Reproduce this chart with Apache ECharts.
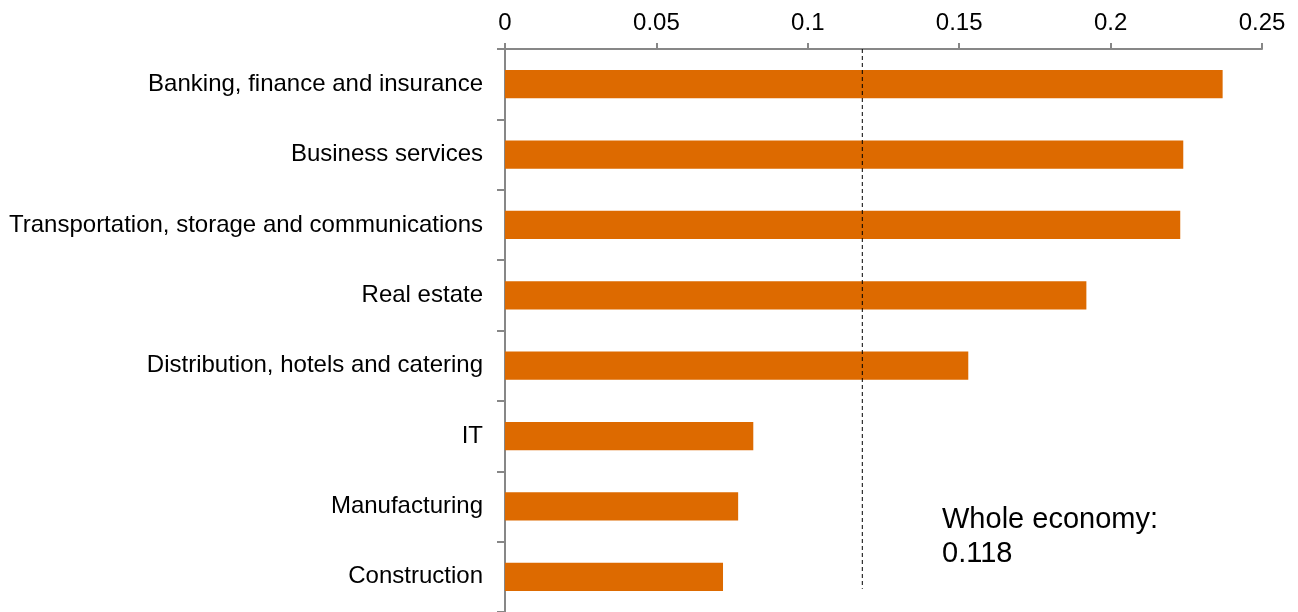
<!DOCTYPE html>
<html>
<head>
<meta charset="utf-8">
<script src="https://cdn.jsdelivr.net/npm/echarts@6/dist/echarts.min.js"></script>
<style>
  html, body { margin: 0; padding: 0; background: #fff; }
  #chart { width: 1298px; height: 612px; }
</style>
</head>
<body>
<div id="chart"></div>
<script>
// Sectors, top to bottom
const sectors = [
  'Banking, finance and insurance',
  'Business services',
  'Transportation, storage and communications',
  'Real estate',
  'Distribution, hotels and catering',
  'IT',
  'Manufacturing',
  'Construction'
];
// Value per sector
const values = [0.237, 0.224, 0.223, 0.192, 0.153, 0.082, 0.077, 0.072];
// Whole-economy reference value
const wholeEconomy = 0.118;
const wholeEconomyLabel = 'Whole economy:\n' + wholeEconomy;
// Axis ticks
const axisMin = 0, axisMax = 0.25, axisStep = 0.05;

const font = '"Liberation Sans", Arial, sans-serif';
const chart = echarts.init(document.getElementById('chart'), null, { renderer: 'canvas' });

chart.setOption({
  animation: false,
  backgroundColor: '#ffffff',
  grid: { left: 505, top: 49, width: 757, height: 564, containLabel: false },
  xAxis: {
    type: 'value',
    position: 'top',
    min: axisMin, max: axisMax, interval: axisStep,
    axisLine: { show: true, lineStyle: { color: '#878787', width: 2 } },
    axisTick: { show: true, length: 6, lineStyle: { color: '#878787', width: 2 } },
    axisLabel: { color: '#000', fontSize: 24, fontFamily: font, margin: 14 },
    splitLine: { show: false }
  },
  yAxis: [
    {
      type: 'category',
      data: sectors,
      inverse: true,
      axisLine: { show: true, lineStyle: { color: '#878787', width: 2 } },
      axisTick: { show: true, length: 8, lineStyle: { color: '#878787', width: 2 } },
      axisLabel: { color: '#000', fontSize: 24, fontFamily: font, margin: 22 },
      splitLine: { show: false }
    },
    {
      // hidden helper axis for the reference line's vertical extent
      type: 'value', min: 0, max: sectors.length, inverse: true, show: false
    }
  ],
  series: [
    {
      type: 'bar',
      data: values,
      barWidth: '40%',
      itemStyle: { color: '#DD6A00' },
      yAxisIndex: 0
    },
    {
      type: 'line',
      yAxisIndex: 1,
      data: [[wholeEconomy, 0], [wholeEconomy, 7.67]],
      symbol: 'none',
      lineStyle: { color: '#000', width: 1, type: [4, 3] },
      silent: true
    }
  ],
  graphic: [
    {
      type: 'text',
      left: 942,
      top: 503,
      style: {
        text: wholeEconomyLabel,
        font: '29px ' + font,
        fill: '#000',
        lineHeight: 34
      }
    }
  ]
});
</script>
</body>
</html>
